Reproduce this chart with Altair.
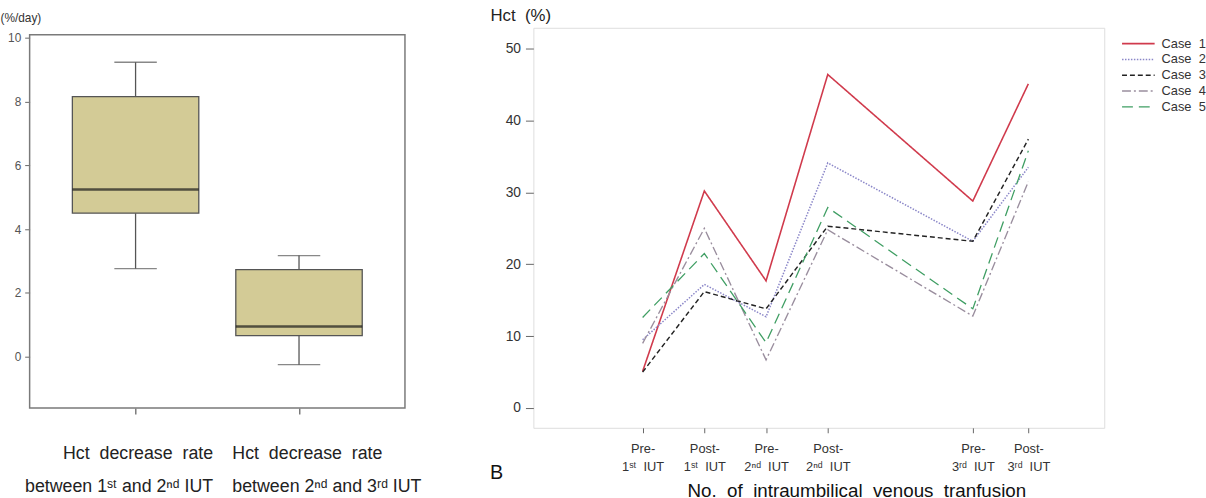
import altair as alt
import pandas as pd

FONT = "Liberation Sans"
SP = "\u00a0 "  # wide word gap that survives SVG whitespace collapsing

# ---- Left panel: Hct decrease rate (%/day), box summaries ----
groups = [1, 2]
group_line1 = [f"Hct{SP}decrease{SP}rate", f"Hct{SP}decrease{SP}rate"]
group_line2 = ["between 1ˢᵗ and 2ⁿᵈ IUT", "between 2ⁿᵈ and 3ʳᵈ IUT"]
whisker_low = [2.76, -0.25]
q1 = [4.50, 0.66]
median = [5.24, 0.95]
q3 = [8.15, 2.73]
whisker_high = [9.23, 3.17]

# ---- Right panel: Hct (%) per case at each transfusion stage ----
stage_pos = [1, 2, 3, 4, 6.35, 7.25]
stage_line1 = ["Pre-", "Post-", "Pre-", "Post-", "Pre-", "Post-"]
stage_line2 = [f"1ˢᵗ{SP}IUT", f"1ˢᵗ{SP}IUT", f"2ⁿᵈ{SP}IUT", f"2ⁿᵈ{SP}IUT", f"3ʳᵈ{SP}IUT", f"3ʳᵈ{SP}IUT"]
cases = [f"Case{SP}1", f"Case{SP}2", f"Case{SP}3", f"Case{SP}4", f"Case{SP}5"]
case1 = [5.1, 30.2, 17.7, 46.4, 28.8, 45.1]
case2 = [9.5, 17.2, 12.7, 34.1, 23.2, 33.5]
case3 = [5.0, 16.2, 13.8, 25.3, 23.2, 37.4]
case4 = [9.0, 25.0, 6.7, 24.8, 12.8, 31.5]
case5 = [12.6, 21.5, 9.1, 27.9, 13.8, 35.8]
case_colors = ["#d03a4c", "#8a86c8", "#222222", "#9a8e9e", "#3f9e63"]
case_dashes = [[1, 0], [1.5, 1.5], [5, 3], [9, 3, 2, 3], [11, 6]]
case_widths = [1.6, 1.3, 2.0, 1.3, 2.0]


def two_line_expr(values, top, bottom):
    parts = []
    for v, a, b in zip(values, top, bottom):
        parts.append(f"datum.value == {v} ? split('{a}|{b}', '|')")
    return " : ".join(parts) + " : ''"


box_df = pd.DataFrame({
    "g": groups, "lo": whisker_low, "q1": q1, "med": median,
    "q3": q3, "hi": whisker_high,
})

# the two long category labels lean away from each other so they don't collide
first_group = f"datum.value == {groups[0]}"
xL = alt.X(
    "g:Q",
    scale=alt.Scale(domain=[0.382, 2.618], nice=False, zero=False),
    axis=alt.Axis(
        values=groups, labelExpr=two_line_expr(groups, group_line1, group_line2),
        domain=False, grid=False, tickSize=6, tickColor="#666", tickWidth=1.3,
        labelFont=FONT, labelFontSize=18, labelColor="#222", labelPadding=31,
        labelLineHeight=33, labelLimit=300, title=None,
        labelAlign={"condition": {"test": first_group, "value": "right"}, "value": "left"},
        labelOffset={"condition": {"test": first_group, "value": 78}, "value": -68},
    ),
)
yL_scale = alt.Scale(domain=[-1.61, 10.31], nice=False, zero=False)
yL_axis = alt.Axis(
    values=[0, 2, 4, 6, 8, 10], domain=False, grid=False, tickSize=5,
    tickColor="#666", labelFont=FONT, labelFontSize=12, labelColor="#555",
    labelPadding=4, title="(%/day)", titleAngle=0, titleAlign="left",
    titleBaseline="middle", titleX=-30, titleY=-10, titleFont=FONT,
    titleFontSize=12, titleFontWeight="normal", titleColor="#333",
)

base_L = alt.Chart(box_df)
whisk_lo = base_L.mark_rule(color="#555", strokeWidth=1.3).encode(
    x=xL, y=alt.Y("lo:Q", scale=yL_scale, axis=yL_axis), y2="q1:Q")
whisk_hi = base_L.mark_rule(color="#555", strokeWidth=1.3).encode(
    x="g:Q", y="q3:Q", y2="hi:Q")
cap_lo = base_L.mark_tick(orient="horizontal", size=43, thickness=1.3, color="#555").encode(
    x="g:Q", y="lo:Q")
cap_hi = base_L.mark_tick(orient="horizontal", size=43, thickness=1.3, color="#555").encode(
    x="g:Q", y="hi:Q")
box = base_L.mark_bar(size=128, fill="#d3cb96", stroke="#555", strokeWidth=1.3).encode(
    x="g:Q", y="q1:Q", y2="q3:Q")
med = base_L.mark_tick(orient="horizontal", size=128, thickness=2.5, color="#1a1a1a").encode(
    x="g:Q", y="med:Q")
# panel frame (sits slightly below the top of the plotting region)
frame_L = alt.Chart(pd.DataFrame({"f": [0]})).mark_rect(
    fillOpacity=0, stroke="#7a7a7a", strokeWidth=1.5
).encode(x=alt.value(0), x2=alt.value(380), y=alt.value(7), y2=alt.value(385))

left = alt.layer(whisk_lo, whisk_hi, cap_lo, cap_hi, box, med, frame_L).properties(
    width=380, height=385, view=alt.ViewBackground(stroke=None))

# ---- right panel ----
rows = []
for name, vals in zip(cases, [case1, case2, case3, case4, case5]):
    for p, v in zip(stage_pos, vals):
        rows.append({"stage": p, "case": name, "hct": v})
line_df = pd.DataFrame(rows)

xR = alt.X(
    "stage:Q",
    scale=alt.Scale(domain=[-0.77, 8.48], nice=False, zero=False),
    axis=alt.Axis(
        values=stage_pos, labelExpr=two_line_expr(stage_pos, stage_line1, stage_line2),
        domain=False, grid=False, tickSize=5, tickColor="#666",
        labelFont=FONT, labelFontSize=13, labelColor="#333", labelPadding=10,
        labelLineHeight=18, labelAlign="center",
        title=f"No.{SP}of{SP}intraumbilical{SP}venous{SP}tranfusion", titleFont=FONT,
        titleFontSize=19, titleFontWeight="normal", titleColor="#111",
        titleX=327, titleY=64, titleBaseline="middle", titleAlign="center",
    ),
)
yR = alt.Y(
    "hct:Q",
    scale=alt.Scale(domain=[-2.75, 52.9], nice=False, zero=False),
    axis=alt.Axis(
        values=[0, 10, 20, 30, 40, 50], domain=False, grid=False, tickSize=8,
        tickColor="#666", labelFont=FONT, labelFontSize=14, labelColor="#333",
        labelPadding=5, title=f"Hct{SP}(%)", titleAngle=0, titleAlign="left",
        titleBaseline="middle", titleX=-44, titleY=-12, titleFont=FONT,
        titleFontSize=17, titleFontWeight="normal", titleColor="#222",
    ),
)

lines = alt.Chart(line_df).mark_line().encode(
    x=xR, y=yR,
    color=alt.Color("case:N", scale=alt.Scale(domain=cases, range=case_colors),
                    legend=alt.Legend(
                        title=None, orient="none", legendX=1116, legendY=9.5,
                        symbolType="M-3,0H3", symbolSize=121, labelFont=FONT,
                        labelFontSize=13, labelColor="#333", labelOffset=17,
                        rowPadding=2, labelLimit=200, padding=0)),
    strokeDash=alt.StrokeDash("case:N", scale=alt.Scale(domain=cases, range=case_dashes)),
    strokeWidth=alt.StrokeWidth("case:N", scale=alt.Scale(domain=cases, range=case_widths)),
    order="stage:Q",
)

panel_tag = alt.Chart(pd.DataFrame({"t": ["B"]})).mark_text(
    font=FONT, fontSize=20, align="left", baseline="middle", color="#111"
).encode(text="t:N", x=alt.value(-44), y=alt.value(451))

right = alt.layer(lines, panel_tag).properties(width=578, height=405)

chart = alt.hconcat(left, right, spacing=68).properties(
    padding={"left": 0, "top": 3, "right": 0, "bottom": 0},
).configure_view(stroke="#7a7a7a", strokeWidth=1.5).configure(background="white")

chart.save("out.html", embed_options={"renderer": "svg", "actions": False})
